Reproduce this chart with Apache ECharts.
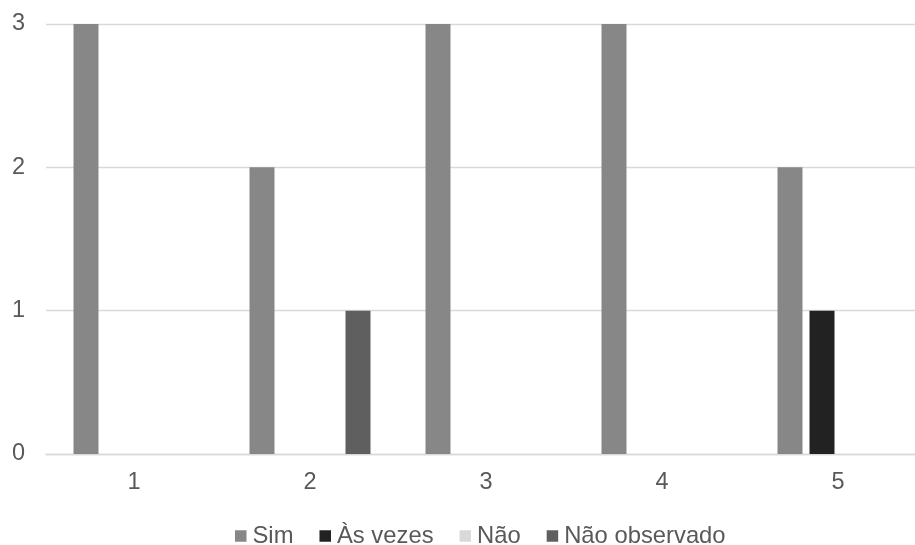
<!DOCTYPE html>
<html>
<head>
<meta charset="utf-8">
<script src="https://cdn.jsdelivr.net/npm/echarts@6/dist/echarts.min.js"></script>
<style>
  html, body { margin: 0; padding: 0; background: #ffffff; overflow: hidden; }
  #chart { width: 926px; height: 545px; }
</style>
</head>
<body>
<div id="chart"></div>
<script>
// Categories on the x axis
const categories = ['1', '2', '3', '4', '5'];

// Series values, one per category
const seriesNames = ['Sim', 'Às vezes', 'Não', 'Não observado'];
const simValues = [3, 2, 3, 3, 2];
const asVezesValues = [0, 0, 0, 0, 1];
const naoValues = [0, 0, 0, 0, 0];
const naoObservadoValues = [0, 1, 0, 0, 0];

// Y axis ticks
const yTicks = [0, 1, 2, 3];

const seriesColors = ['#878787', '#222222', '#d9d9d9', '#5f5f5f'];
const seriesValues = [simValues, asVezesValues, naoValues, naoObservadoValues];

const textColor = '#595959';
const fontFamily = '"Liberation Sans", Arial, sans-serif';
const fontSize = 23.5;

const chart = echarts.init(document.getElementById('chart'), null, { renderer: 'canvas' });

chart.setOption({
  animation: false,
  backgroundColor: '#ffffff',
  grid: { left: 46, top: 24, right: 0, height: 430, containLabel: false },
  legend: {
    data: seriesNames,
    bottom: -8,
    left: 230,
    itemWidth: 11.5,
    itemHeight: 11.5,
    itemGap: 26,
    icon: 'rect',
    textStyle: {
      color: textColor,
      fontSize: 23.8,
      fontFamily: fontFamily,
      padding: [0, 0, 0, 1]
    }
  },
  xAxis: {
    type: 'category',
    data: categories,
    axisTick: { show: false },
    axisLine: { show: true, lineStyle: { color: '#d9d9d9', width: 1.3 } },
    axisLabel: {
      color: textColor,
      fontSize: fontSize,
      fontFamily: fontFamily,
      margin: 17
    }
  },
  yAxis: {
    type: 'value',
    min: yTicks[0],
    max: yTicks[yTicks.length - 1],
    interval: 1,
    axisLine: { show: false },
    axisTick: { show: false },
    splitLine: { lineStyle: { color: '#d9d9d9', width: 1.3 } },
    axisLabel: {
      color: textColor,
      fontSize: fontSize,
      fontFamily: fontFamily,
      margin: 21
    }
  },
  series: seriesNames.map((name, i) => ({
    name: name,
    type: 'bar',
    data: seriesValues[i],
    barWidth: 25,
    barGap: '28%',
    itemStyle: { color: seriesColors[i] }
  }))
});
</script>
</body>
</html>
